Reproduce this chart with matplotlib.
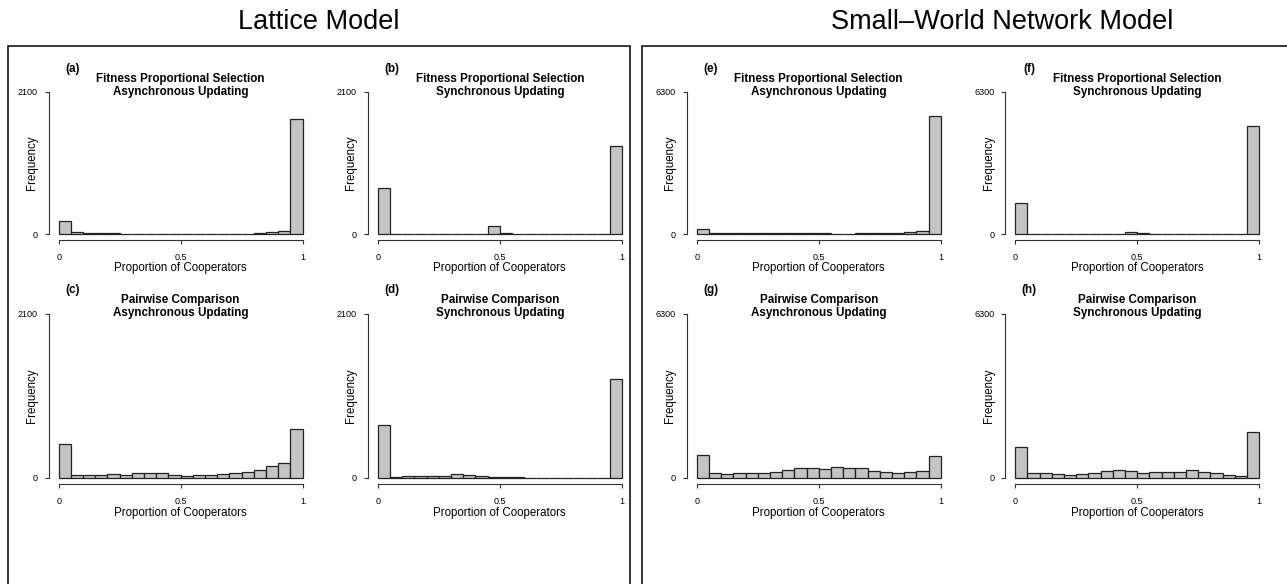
import numpy as np
from matplotlib import pyplot as plt
from matplotlib.patches import Rectangle

plt.rcParams['font.family'] = ['Liberation Sans', 'DejaVu Sans']

W, H = 1287, 584

# histogram counts, 20 bins over the proportion of cooperators
lattice_fps_async = [187, 25, 15, 15, 10, 4, 4, 4, 4, 4, 4, 4, 4, 4, 4, 5, 15, 30, 45, 1706]
lattice_fps_sync = [680, 0, 0, 0, 0, 0, 0, 0, 0, 113, 15, 0, 0, 0, 0, 0, 0, 0, 0, 1301]
lattice_pc_async = [435, 38, 34, 34, 51, 30, 55, 55, 55, 30, 17, 30, 30, 43, 55, 68, 98, 145, 184, 623]
lattice_pc_sync = [670, 8, 17, 17, 21, 21, 43, 30, 17, 13, 4, 4, 0, 0, 0, 0, 0, 0, 0, 1259]
sw_fps_async = [237, 59, 30, 44, 44, 44, 44, 59, 44, 44, 30, 15, 15, 30, 30, 44, 44, 104, 148, 5220]
sw_fps_sync = [1361, 10, 10, 10, 10, 10, 10, 10, 10, 89, 59, 10, 10, 10, 10, 10, 10, 10, 10, 4806]
sw_pc_async = [858, 166, 128, 166, 166, 179, 230, 294, 358, 384, 346, 397, 384, 358, 243, 205, 192, 230, 269, 820]
sw_pc_sync = [1178, 166, 166, 128, 115, 154, 166, 256, 282, 256, 192, 205, 230, 230, 282, 230, 179, 115, 77, 1741]

bin_edges = np.linspace(0, 1, 21)

model_titles = ["Lattice Model", "Small\u2013World Network Model"]
panel_letters = ["(a)", "(b)", "(c)", "(d)", "(e)", "(f)", "(g)", "(h)"]
panel_titles = [
    ("Fitness Proportional Selection", "Asynchronous Updating"),
    ("Fitness Proportional Selection", "Synchronous Updating"),
    ("Pairwise Comparison", "Asynchronous Updating"),
    ("Pairwise Comparison", "Synchronous Updating"),
]
panel_data = [lattice_fps_async, lattice_fps_sync, lattice_pc_async, lattice_pc_sync,
              sw_fps_async, sw_fps_sync, sw_pc_async, sw_pc_sync]
y_max = [2100, 2100, 2100, 2100, 6300, 6300, 6300, 6300]

fig = plt.figure(figsize=(W / 100, H / 100), dpi=100)


def fx(x):
    return x / W


def fy(y):
    return 1 - y / H


# plot regions in pixels: left edges per column, (top, height) per row
col_left = [48.9, 368.0, 687.0, 1005.5]
col_width = 263.5
rows = [(86.3, 153.4), (307.1, 177.2)]

for i, counts in enumerate(panel_data):
    block = i // 4
    k = i % 4
    col = block * 2 + k % 2
    row = k // 2
    left = col_left[col]
    top, height = rows[row]
    ax = fig.add_axes([fx(left), fy(top + height), fx(col_width), height / H])
    ymax = y_max[i]
    ax.bar(bin_edges[:-1], counts, width=0.05, align='edge',
           color='#c4c4c4', edgecolor='#222222', linewidth=0.9)
    ax.set_xlim(-0.04, 1.04)
    ax.set_ylim(-0.04 * ymax, 1.04 * ymax)
    for s in ['top', 'right']:
        ax.spines[s].set_visible(False)
    ax.spines['left'].set_bounds(0, ymax)
    ax.spines['bottom'].set_bounds(0, 1)
    for s in ['left', 'bottom']:
        ax.spines[s].set_linewidth(0.8)
        ax.spines[s].set_color('#333333')
    ax.set_xticks([0, 0.5, 1])
    ax.set_xticklabels(["0", "0.5", "1"])
    ax.set_yticks([0, ymax])
    ax.set_yticklabels(["0", str(ymax)])
    ax.tick_params(axis='x', length=3, width=0.8, pad=6.5, labelsize=6.5, color='#333333')
    ax.tick_params(axis='y', length=3, width=0.8, pad=5, labelsize=6.5, color='#333333')
    ax.patch.set_alpha(0)

    t1, t2 = panel_titles[k]
    cx = left + col_width / 2
    fig.text(fx(cx), fy(top - 7.3), t1, ha='center', va='center',
             fontsize=8.4, fontweight='bold')
    fig.text(fx(cx), fy(top + 5.7), t2, ha='center', va='center',
             fontsize=8.4, fontweight='bold')
    fig.text(fx(left + 23.5), fy(top - 17), panel_letters[i], ha='center', va='center',
             fontsize=8.4, fontweight='bold')
    fig.text(fx(left - 17), fy(top + height / 2), "Frequency", ha='center', va='center',
             rotation=90, fontsize=8.3)
    fig.text(fx(cx), fy(top + height + 28.5), "Proportion of Cooperators",
             ha='center', va='center', fontsize=8.3)

# outer boxes around each model
boxes = [(8.3, 630.0), (641.7, 1362.0)]
for (x0, x1), title in zip(boxes, model_titles):
    rect = Rectangle((fx(x0), fy(600)), fx(x1 - x0), (600 - 45.7) / H,
                     transform=fig.transFigure, fill=False,
                     edgecolor='black', linewidth=1.1, clip_on=False)
    fig.add_artist(rect)
    fig.text(fx((x0 + x1) / 2), fy(22), title, ha='center', va='center', fontsize=19.5)

fig.savefig("out.png", dpi=100)
